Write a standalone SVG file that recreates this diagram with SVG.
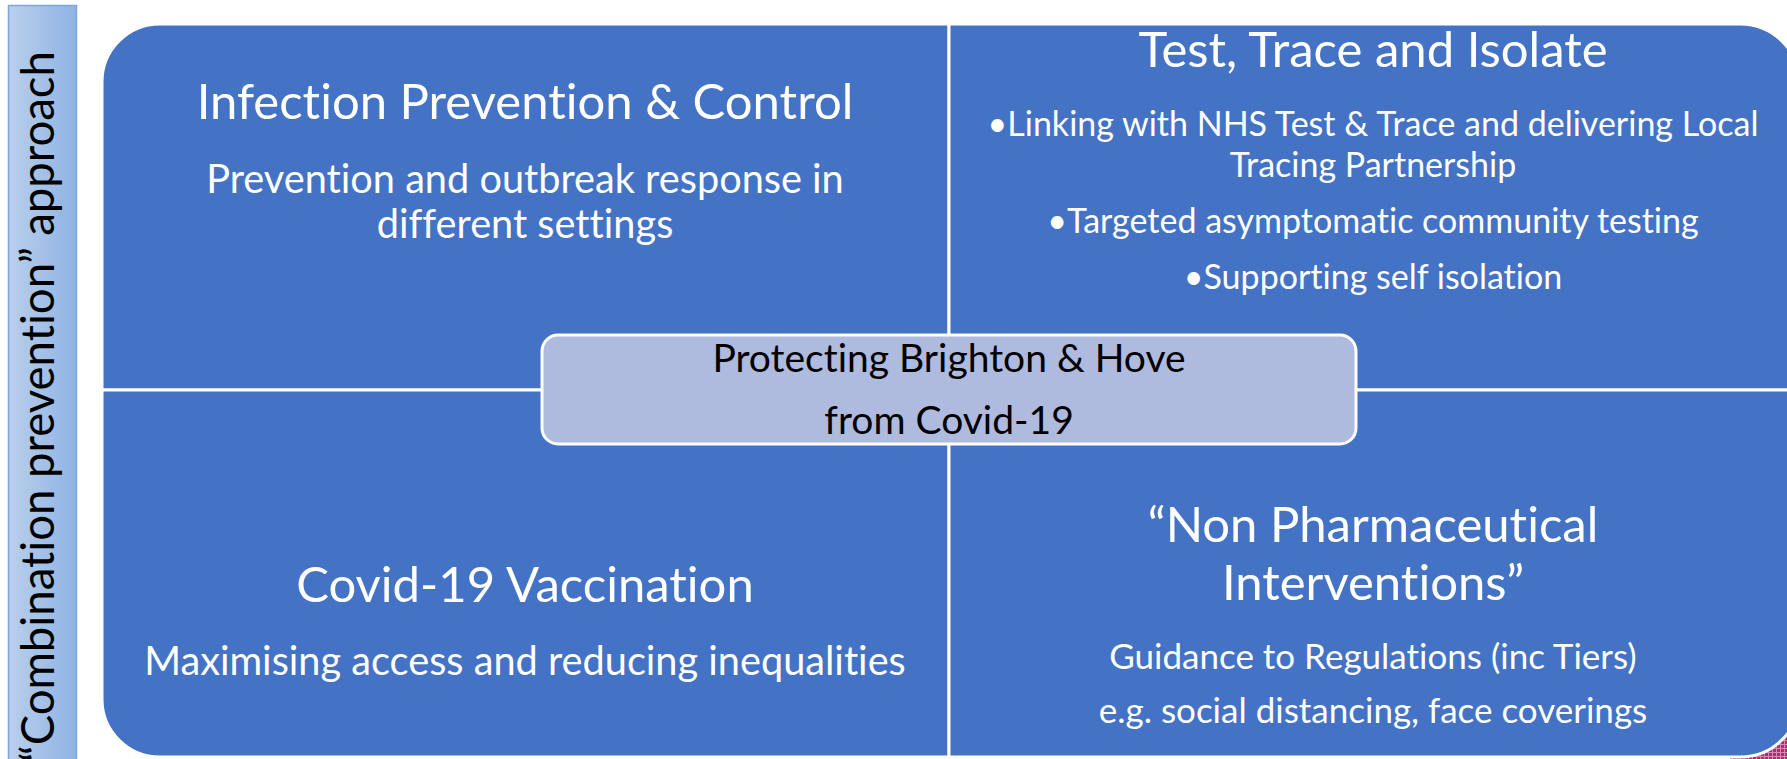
<svg xmlns="http://www.w3.org/2000/svg" width="1787" height="759" viewBox="0 0 1787 759">
<defs>
<style>
text{font-variant-ligatures:none;font-feature-settings:"liga" 0}
.q{fill:#4472C4;stroke:#FFFFFF;stroke-width:3}
.w{fill:#FFFFFF;font-family:Lato,"Open Sans",sans-serif;text-anchor:middle}
.t{font-size:49px}
.s{font-size:39.7px}
.b{font-size:34px}
.g{font-size:35px}
.c{fill:#000000;font-family:Lato,"Open Sans",sans-serif;text-anchor:middle;font-size:39px}
</style>
<linearGradient id="barg" x1="0" y1="0" x2="1" y2="0">
<stop offset="0" stop-color="#B9CFEC"/>
<stop offset="1" stop-color="#8FB3E3"/>
</linearGradient>
<pattern id="pink" width="4" height="4" patternUnits="userSpaceOnUse">
<rect width="4" height="4" fill="#A8306E"/>
<path d="M0,0.5H4M0.5,0V4" stroke="#D98BB5" stroke-width="1"/>
</pattern>
</defs>
<rect width="1787" height="759" fill="#FFFFFF"/>
<rect x="1730" y="700" width="57" height="59" fill="url(#pink)"/>
<g id="side-bar">
<rect x="8.5" y="5.5" width="68" height="760" fill="url(#barg)" stroke="#7FA6DA" stroke-width="1.5"/>
<text transform="translate(54,51) rotate(-90)" text-anchor="end" font-family="Lato,'Open Sans',sans-serif" font-size="45.5" fill="#000000">“Combination prevention”  approach</text>
</g>
<g id="q-infection">
<path class="q" d="M102,390V82A58,58 0 0 1 160,24H949V390Z"/>
<text class="w t" x="525" y="119">Infection Prevention &amp; Control</text>
<text class="w s" x="525" y="193">Prevention and outbreak response in</text>
<text class="w s" x="525" y="238">different settings</text>
</g>
<g id="q-test">
<path class="q" d="M949,24H1740A60,60 0 0 1 1800,84V390H949Z"/>
<text class="w t" x="1373" y="67">Test, Trace and Isolate</text>
<text class="w b" x="1373" y="136">•Linking with NHS Test &amp; Trace and delivering Local</text>
<text class="w b" x="1373" y="177">Tracing Partnership</text>
<text class="w b" x="1373" y="233">•Targeted asymptomatic community testing</text>
<text class="w b" x="1373" y="289">•Supporting self isolation</text>
</g>
<g id="q-vaccination">
<path class="q" d="M102,390H949V757H160A58,58 0 0 1 102,699Z"/>
<text class="w t" x="525" y="602">Covid-19 Vaccination</text>
<text class="w s" x="525" y="675">Maximising access and reducing inequalities</text>
</g>
<g id="q-npi">
<path class="q" d="M949,390H1800V697A60,60 0 0 1 1740,757H949Z"/>
<text class="w t" x="1373" y="542">“Non Pharmaceutical</text>
<text class="w t" x="1373" y="600">Interventions”</text>
<text class="w g" x="1373" y="669">Guidance to Regulations (inc Tiers)</text>
<text class="w g" x="1373" y="723">e.g. social distancing, face coverings</text>
</g>
<g id="center">
<rect x="542" y="335" width="814" height="109" rx="16" fill="#AFBADF" stroke="#FFFFFF" stroke-width="3"/>
<text class="c" x="949" y="372">Protecting Brighton &amp; Hove</text>
<text class="c" x="949" y="434">from Covid-19</text>
</g>
</svg>
